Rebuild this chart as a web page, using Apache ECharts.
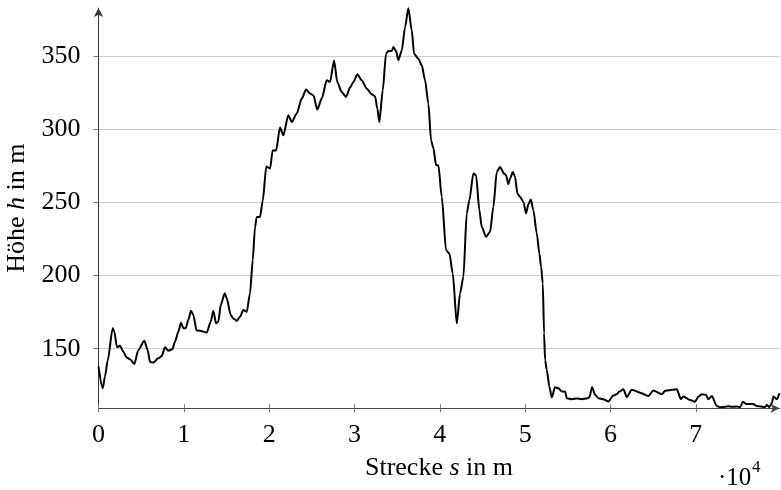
<!DOCTYPE html>
<html><head><meta charset="utf-8">
<script src="https://cdn.jsdelivr.net/npm/echarts@6/dist/echarts.min.js"></script>
<style>html,body{margin:0;padding:0;background:#fff}#c{width:781px;height:490px}</style>
</head><body><div id="c"></div>
<script>
// distance s in m
const distance = [0,492,762,1078,1664,1852,2168,2520,2907,3305,3692,4196,4665,5368,5766,6036,6423,7009,7407,7794,8181,8649,8966,9353,9669,9939,10220,10525,10841,11111,11486,11896,12681,13150,13455,13771,14041,14322,14791,15025,15494,15799,16197,16584,16971,17369,17756,18072,18342,18541,18928,19244,19666,19924,20100,20416,20803,21272,21659,22245,22643,23229,23815,24319,24788,25175,25643,26159,26745,27132,27601,27988,28503,29007,29476,29863,30331,30847,31433,32019,32405,32675,32910,33308,33695,33965,34363,34551,34867,35137,35535,35922,36309,36707,36977,37481,37880,38266,38653,38969,39239,39555,39825,40223,40727,41114,41512,41981,42368,42755,43153,43458,43927,44243,44630,44911,45415,45884,46271,46669,47056,47525,47759,48029,48228,48544,48814,49083,49400,49787,50103,50373,50654,50959,51358,51663,51862,52061,52213,52331,52530,52835,53115,53502,53889,54287,54674,54873,55459,56045,56631,57217,57522,57838,58190,58577,59163,59749,60335,60733,61038,61507,61906,62492,63464,64437,65023,66007,66394,67765,68234,68539,69324,69910,70297,70695,71199,71469,71868,72454,72840,73426,73813,74212,74798,75185,75502,75889,76674,77143,78116,78315,78619,78900,79088,79486,79800];
// height h in m
const height = [138,123,131,142,164,161.6,151,152,148,144,142.8,139.6,149,155.5,149,141,140.5,143.4,145,151,148.6,149.6,154.8,161.6,167.7,164,164,169.6,176,173,162.5,162.3,161,168.4,176,167.3,168.4,179.8,187.8,184.4,173,170.7,169,171.8,176.4,175.2,187.8,210.5,233,240,240,251,274.5,273.5,273,285.5,285.3,301,295.8,309.4,304.8,310.6,320.8,327,324.2,323,313.3,320.8,333.3,332.1,346.9,332,325.3,321.9,328.3,332,337.4,333.3,327.6,323.7,322.4,314,304.8,326.5,351.5,353.3,353.3,356,353.3,347,353.7,369.6,382.5,367.4,351.5,348,343.5,333.3,317.4,292.4,287,275.3,275.3,253.7,217.3,215,201.4,167.3,187.8,199,242.4,251.4,269.6,268.5,244.6,233.2,226.4,229.8,246.9,270.7,274.1,269.6,268.5,262.3,266.2,270.7,267.3,256,253.7,250.3,242.4,248.7,251.9,244.6,228.7,215,205.9,194.6,160.5,142.3,135.5,124.1,116.8,123.7,123,120.7,120.7,116.2,115.5,116,115.5,116,116.8,123.7,118.5,116.2,115.5,114,118,119,120.7,122.3,117,122,120,117.7,121.5,118.9,121.2,122.3,115.7,117.3,115,113.8,117.3,118.9,118.4,115.5,117.7,110.9,110,110.3,110.7,110.3,110.5,110,113.8,112.3,112.3,110.9,110.2,111.6,110.2,112.8,117.3,115.5,119.6];
const xTicks = [0,10000,20000,30000,40000,50000,60000,70000];
const yTicks = [150,200,250,300,350];
const xMin = 0, xMax = 79800, yMin = 109.3, yMax = 382.6;

const FONT = 'Liberation Serif';
const FS = 26;
const chart = echarts.init(document.getElementById('c'));
chart.setOption({
  animation: false,
  backgroundColor: '#fff',
  grid: {left: 98.5, right: 1.5, top: 8.1, bottom: 81.7, containLabel: false, outerBoundsMode: 'none'},
  xAxis: [{
    type: 'value', min: xMin, max: xMax, position: 'bottom',
    axisLine: {show: true, symbol: ['none', 'arrow'], symbolSize: [7, 9], lineStyle: {color: '#444', width: 1.2}},
    axisTick: {show: true, inside: false, length: 4, customValues: xTicks, lineStyle: {color: '#777'}},
    axisLabel: {customValues: xTicks, formatter: v => String(Math.round(v / 10000)), fontFamily: FONT, fontSize: FS, color: '#000', margin: 14},
    splitLine: {show: false},
    name: '{r|Strecke }{i|s}{r| in m}', nameLocation: 'middle', nameGap: 47,
    nameTextStyle: {rich: {
      r: {fontFamily: FONT, fontSize: FS, color: '#000'},
      i: {fontFamily: FONT, fontSize: FS, color: '#000', fontStyle: 'italic'}
    }}
  }, {
    type: 'value', min: xMin, max: xMax, position: 'bottom',
    axisLine: {show: false},
    axisTick: {show: true, inside: true, length: 4, customValues: xTicks, lineStyle: {color: '#777'}},
    axisLabel: {show: false},
    splitLine: {show: false}
  }],
  yAxis: {
    type: 'value', min: yMin, max: yMax,
    axisLine: {show: true, symbol: ['none', 'arrow'], symbolSize: [7, 9], lineStyle: {color: '#333', width: 1}},
    axisTick: {show: true, inside: false, length: 5, customValues: yTicks, lineStyle: {color: '#777'}},
    axisLabel: {customValues: yTicks, fontFamily: FONT, fontSize: FS, color: '#000', margin: 18},
    splitLine: {show: true, lineStyle: {color: '#cccccc', width: 1}},
    name: '{r|Höhe }{i|h}{r| in m}', nameLocation: 'middle', nameGap: 67, nameRotate: 90,
    nameTextStyle: {rich: {
      r: {fontFamily: FONT, fontSize: FS, color: '#000'},
      i: {fontFamily: FONT, fontSize: FS, color: '#000', fontStyle: 'italic'}
    }}
  },
  graphic: [
    {type: 'text', left: 718, top: 466, style: {text: '·10', font: '25px "Liberation Serif"', fill: '#000'}},
    {type: 'text', left: 752, top: 459, style: {text: '4', font: '17px "Liberation Serif"', fill: '#000'}}
  ],
  series: [{
    type: 'line', xAxisIndex: 0, yAxisIndex: 0,
    data: distance.map((d, i) => [d, height[i]]),
    showSymbol: false, symbol: 'none',
    smooth: 0.25, smoothMonotone: 'x',
    lineStyle: {color: '#000', width: 2},
    z: 5
  }]
});
</script>
</body></html>
